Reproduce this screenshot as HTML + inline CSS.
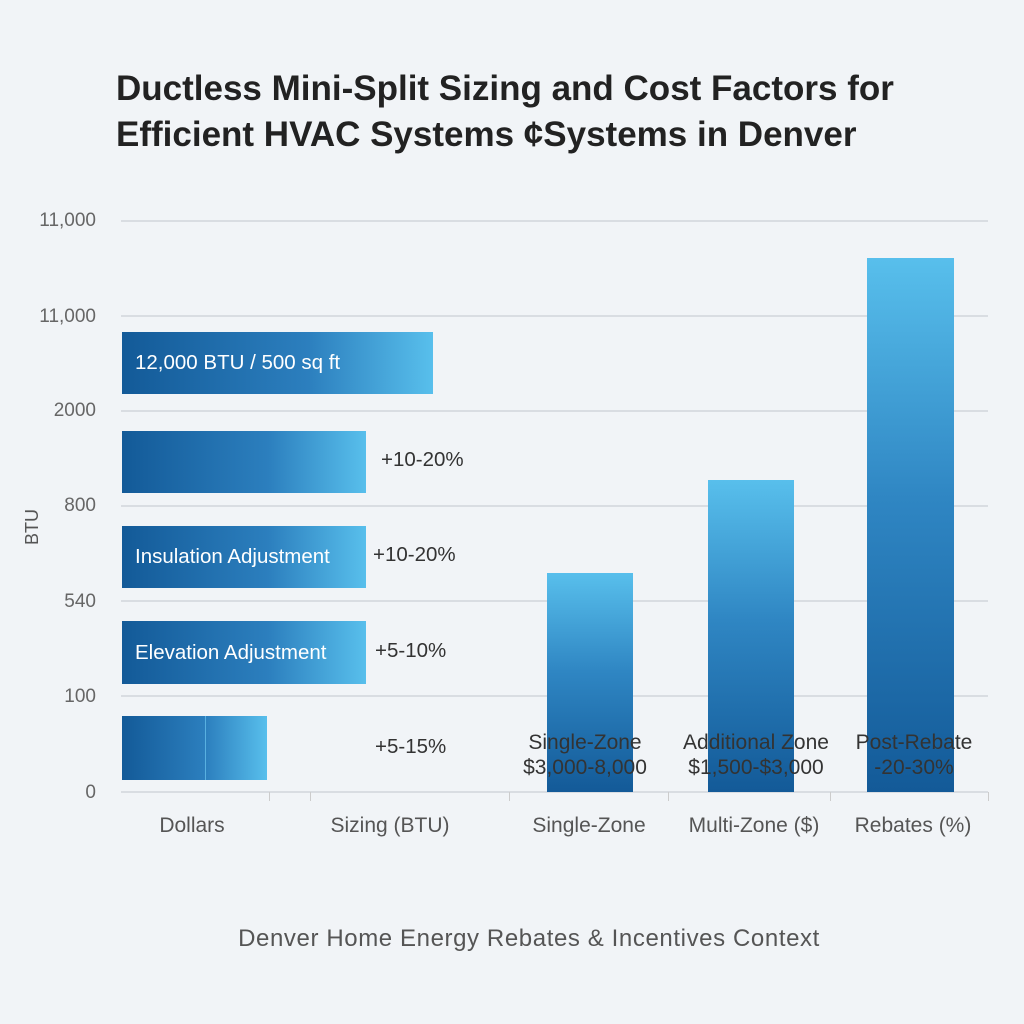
<!DOCTYPE html>
<html><head><style>
body{margin:0;width:1024px;height:1024px;background:#f1f4f7;position:relative;overflow:hidden;font-family:"Liberation Sans",sans-serif;}
.t{position:absolute;white-space:nowrap;}
.g{position:absolute;left:121px;width:867px;height:2px;background:#d9dde2;}
.yl{position:absolute;right:928px;color:#666;font-size:19px;}
.hb{position:absolute;left:122px;background:linear-gradient(90deg,#135a98,#2c7fbe 60%,#58bfec);}
.hb span{position:absolute;left:13px;color:#fff;font-size:20.5px;top:50%;transform:translateY(-50%);white-space:nowrap;}
.vb{position:absolute;bottom:232px;background:linear-gradient(180deg,#58bfec,#2f86c3 45%,#135a98);}
.pl{position:absolute;color:#333;font-size:20.5px;}
.xl{position:absolute;top:814px;color:#555;font-size:21px;transform:translateX(-50%);white-space:nowrap;}
.tk{position:absolute;top:792px;width:1px;height:9px;background:#ccc;}
.vt{position:absolute;color:#333;font-size:21px;text-align:center;transform:translateX(-50%);line-height:25px;white-space:nowrap;}
</style></head><body>
<div class="t" style="left:116px;top:66px;font-size:35px;font-weight:bold;color:#222;line-height:46px;">Ductless Mini-Split Sizing and Cost Factors for<br>Efficient HVAC Systems ¢Systems in Denver</div>
<div class="g" style="top:220px"></div><div class="g" style="top:315px"></div><div class="g" style="top:410px"></div><div class="g" style="top:505px"></div><div class="g" style="top:600px"></div><div class="g" style="top:695px"></div><div class="g" style="top:791px"></div>
<div class="yl" style="top:210px">11,000</div><div class="yl" style="top:306px">11,000</div><div class="yl" style="top:400px">2000</div><div class="yl" style="top:495px">800</div><div class="yl" style="top:591px">540</div><div class="yl" style="top:686px">100</div><div class="yl" style="top:782px">0</div>
<div class="t" style="left:22px;top:545px;font-size:18px;color:#555;transform:rotate(-90deg);transform-origin:left top;">BTU</div>
<div class="hb" style="top:332px;width:311px;height:62px"><span>12,000 BTU / 500 sq ft</span></div>
<div class="hb" style="top:431px;width:244px;height:62px"></div>
<div class="hb" style="top:526px;width:244px;height:62px"><span>Insulation Adjustment</span></div>
<div class="hb" style="top:621px;width:244px;height:63px"><span>Elevation Adjustment</span></div>
<div class="hb" style="top:716px;width:83px;height:64px;background:linear-gradient(90deg,#135a98,#2c7fbe)"></div>
<div class="hb" style="left:205px;top:716px;width:61px;height:64px;border-left:1px solid #58b0e0;background:linear-gradient(90deg,#2c7fbe,#58bfec)"></div>
<div class="pl" style="left:381px;top:448px">+10-20%</div>
<div class="pl" style="left:373px;top:543px">+10-20%</div>
<div class="pl" style="left:375px;top:639px">+5-10%</div>
<div class="pl" style="left:375px;top:735px">+5-15%</div>
<div class="vb" style="left:547px;width:86px;height:219px"></div>
<div class="vb" style="left:708px;width:86px;height:312px"></div>
<div class="vb" style="left:867px;width:87px;height:534px"></div>
<div class="vt" style="left:585px;top:730px">Single-Zone<br>$3,000-8,000</div>
<div class="vt" style="left:756px;top:730px">Additional Zone<br>$1,500-$3,000</div>
<div class="vt" style="left:914px;top:730px">Post-Rebate<br>-20-30%</div>
<div class="tk" style="left:269px"></div><div class="tk" style="left:310px"></div><div class="tk" style="left:509px"></div><div class="tk" style="left:668px"></div><div class="tk" style="left:830px"></div><div class="tk" style="left:988px"></div>
<div class="xl" style="left:192px">Dollars</div>
<div class="xl" style="left:390px">Sizing (BTU)</div>
<div class="xl" style="left:589px">Single-Zone</div>
<div class="xl" style="left:754px">Multi-Zone ($)</div>
<div class="xl" style="left:913px">Rebates (%)</div>
<div class="t" style="left:529px;top:925px;transform:translateX(-50%);font-size:24px;letter-spacing:0.6px;color:#555;">Denver Home Energy Rebates &amp; Incentives Context</div>
</body></html>
